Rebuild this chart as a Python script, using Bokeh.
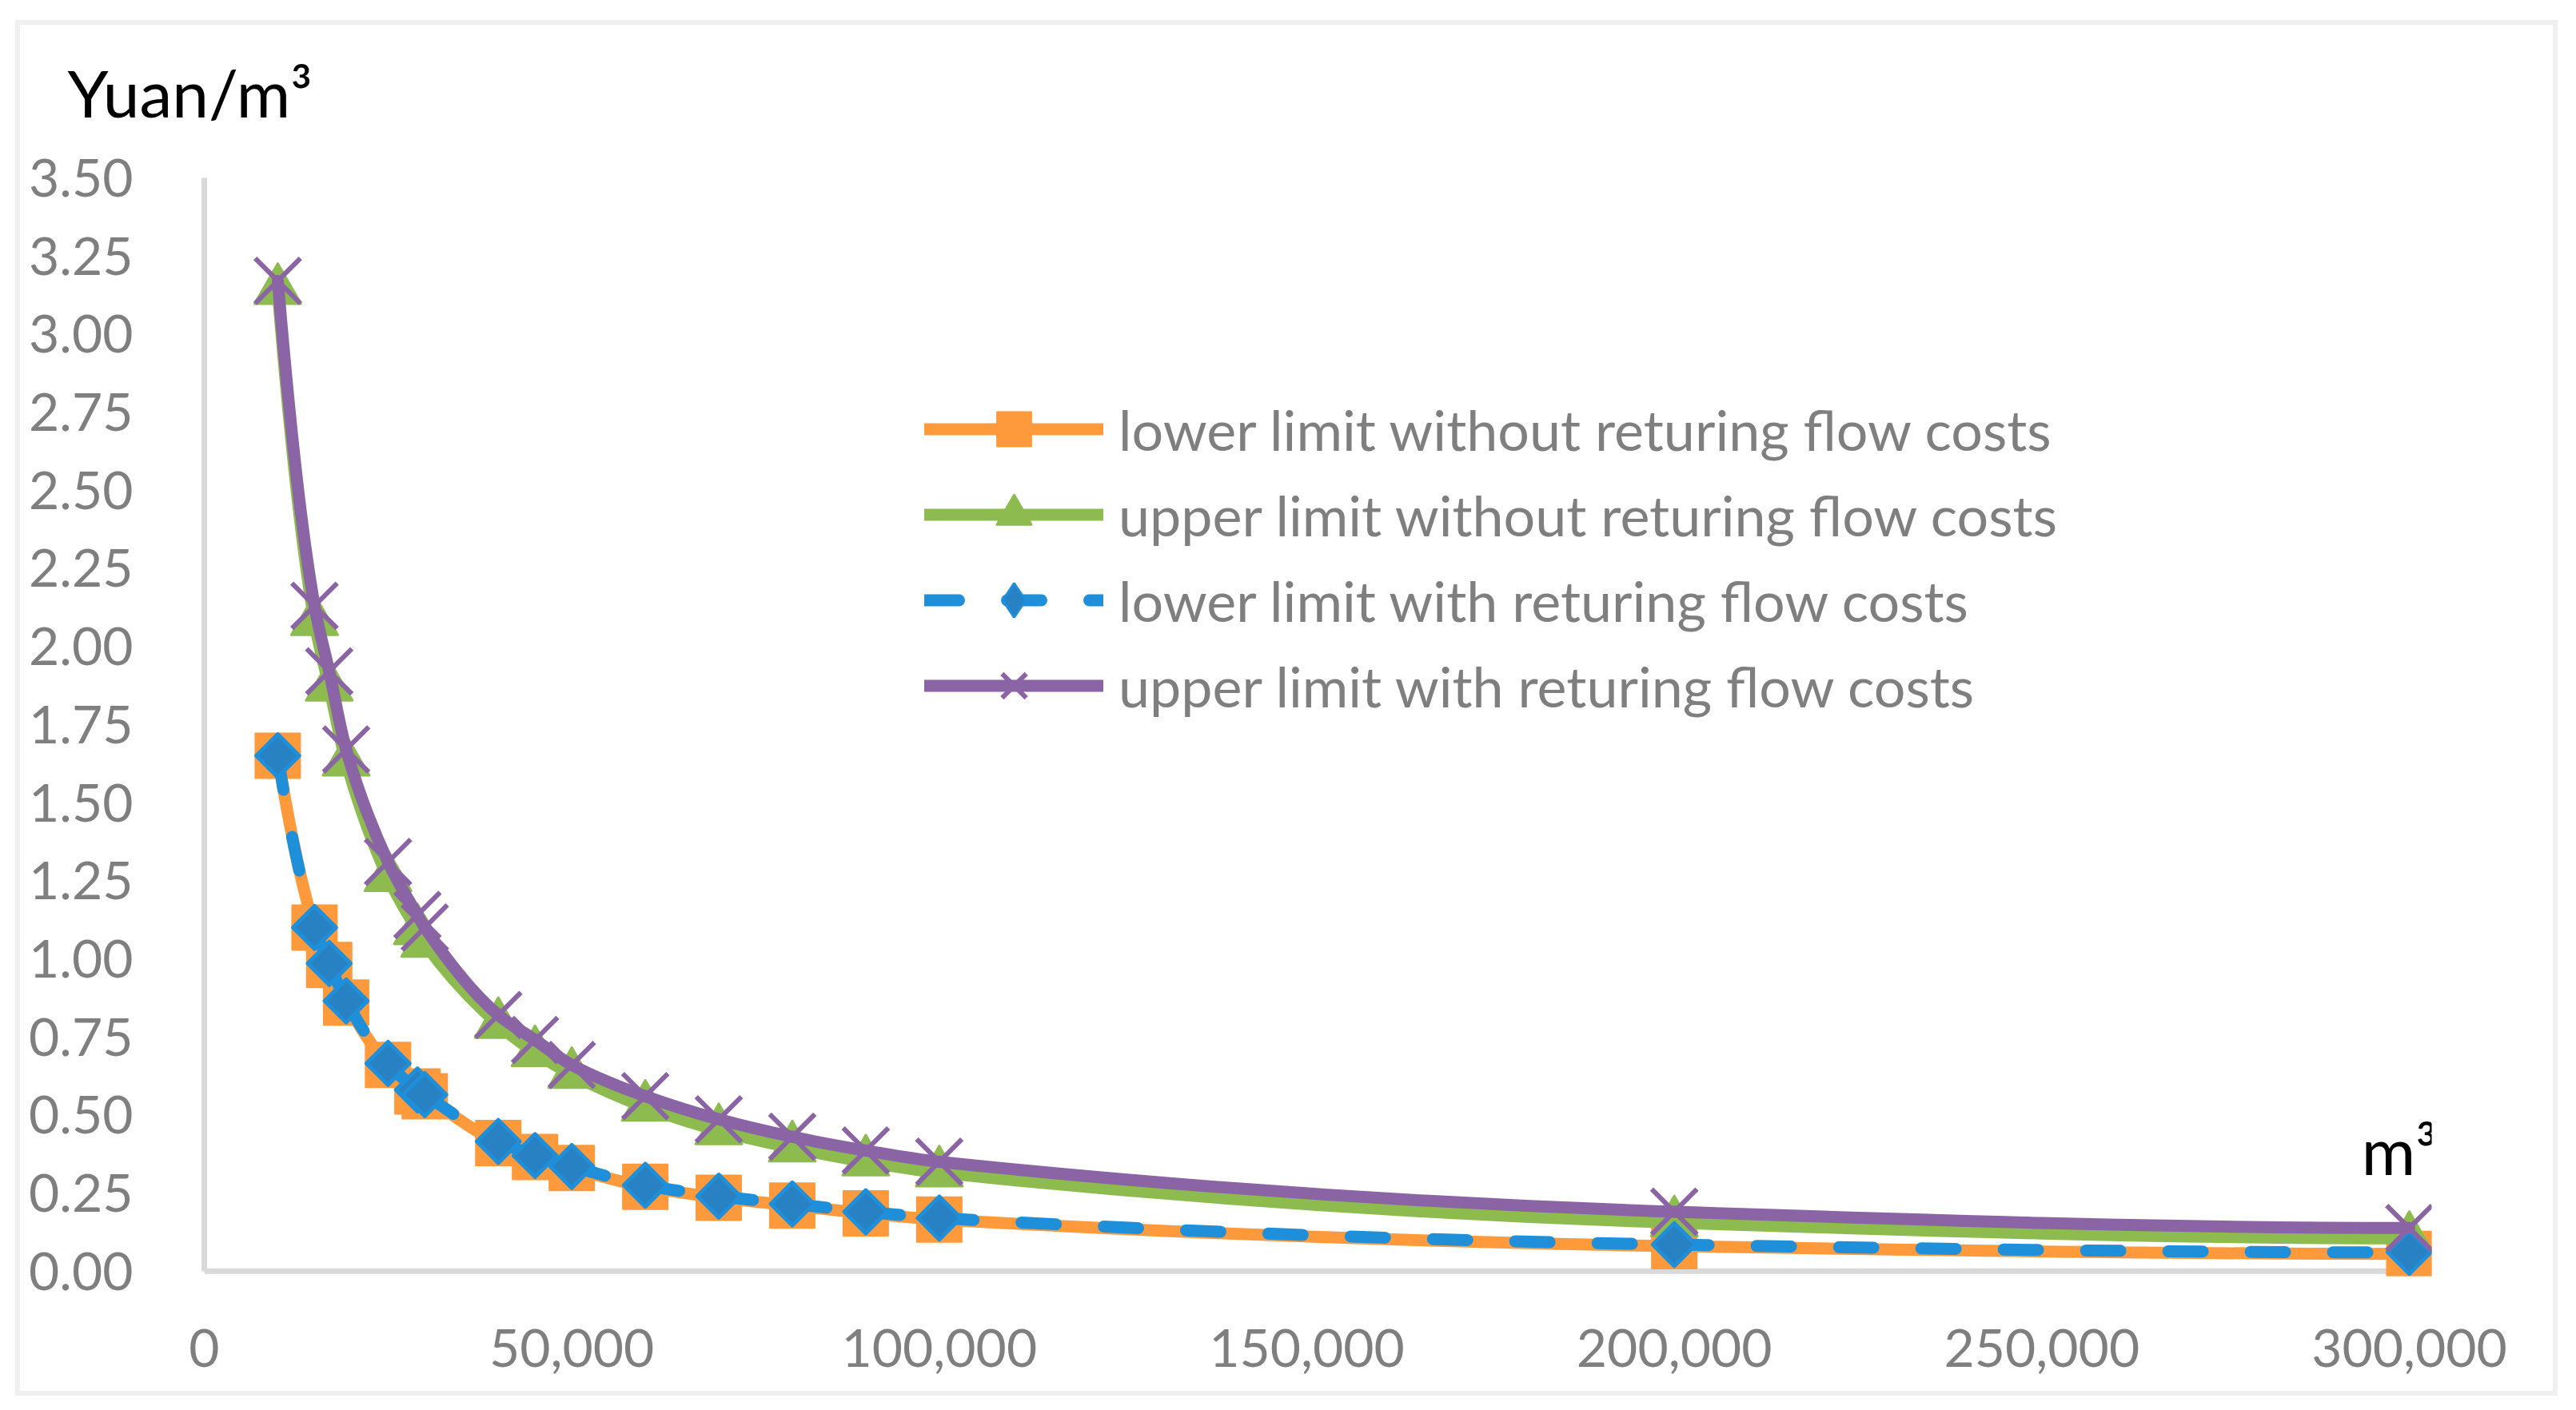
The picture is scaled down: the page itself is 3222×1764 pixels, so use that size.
import numpy as np
from bokeh.plotting import figure
from bokeh.models import (ColumnDataSource, Legend, LegendItem, FixedTicker,
                          NumeralTickFormatter, Range1d, Label, Span)
from bokeh.embed import file_html
from bokeh.resources import INLINE

# ---------------- data ----------------
volume = [10000, 15000, 17000, 19300, 25000, 29000, 30000, 40000, 45000, 50000,
          60000, 70000, 80000, 90000, 100000, 200000, 300000]
lower_without = [1.65, 1.10, 0.98, 0.86, 0.66, 0.575, 0.56, 0.41, 0.365, 0.33,
                 0.27, 0.235, 0.21, 0.185, 0.165, 0.08, 0.055]
upper_without = [3.14, 2.08, 1.87, 1.63, 1.26, 1.09, 1.05, 0.79, 0.70, 0.63,
                 0.525, 0.45, 0.395, 0.35, 0.315, 0.155, 0.105]
lower_with = [1.65, 1.10, 0.985, 0.865, 0.665, 0.58, 0.565, 0.415, 0.37, 0.335,
              0.275, 0.24, 0.215, 0.19, 0.17, 0.085, 0.06]
upper_with = [3.17, 2.13, 1.92, 1.67, 1.31, 1.14, 1.10, 0.82, 0.74, 0.66,
              0.56, 0.486, 0.43, 0.386, 0.35, 0.19, 0.138]
series_names = ["lower limit without returing flow costs",
                "upper limit without returing flow costs",
                "lower limit with returing flow costs",
                "upper limit with returing flow costs"]
x_ticks = [0, 50000, 100000, 150000, 200000, 250000, 300000]
y_ticks = [0.0, 0.25, 0.5, 0.75, 1.0, 1.25, 1.5, 1.75, 2.0, 2.25, 2.5, 2.75, 3.0, 3.25, 3.5]

FONT = "Lato"
GRAY = "#7f7f7f"
AXIS = "#d9d9d9"
FRAME_GRAY = "#f0f0f0"


def smooth_segments(xs, ys):
    """Monotone cubic (Fritsch-Carlson) through the points, as Bezier control points."""
    x = np.asarray(xs, float)
    y = np.asarray(ys, float)
    h = np.diff(x)
    d = np.diff(y) / h
    n = len(x)
    m = np.zeros(n)
    for i in range(1, n - 1):
        if d[i - 1] * d[i] <= 0:
            m[i] = 0.0
        else:
            w1 = 2 * h[i] + h[i - 1]
            w2 = h[i] + 2 * h[i - 1]
            m[i] = (w1 + w2) / (w1 / d[i - 1] + w2 / d[i])

    def end(h0, h1, d0, d1):
        mm = ((2 * h0 + h1) * d0 - h0 * d1) / (h0 + h1)
        if np.sign(mm) != np.sign(d0):
            mm = 0.0
        elif np.sign(d0) != np.sign(d1) and abs(mm) > abs(3 * d0):
            mm = 3 * d0
        return mm

    m[0] = end(h[0], h[1], d[0], d[1])
    m[-1] = end(h[-1], h[-2], d[-1], d[-2])
    return dict(x0=x[:-1], y0=y[:-1], x1=x[1:], y1=y[1:],
                cx0=x[:-1] + h / 3, cy0=y[:-1] + m[:-1] * h / 3,
                cx1=x[1:] - h / 3, cy1=y[1:] - m[1:] * h / 3)


p = figure(width=3218, height=1764,
           x_range=Range1d(0, 303046), y_range=Range1d(-0.016, 3.5),
           output_backend="svg", toolbar_location=None,
           min_border_left=255, min_border_right=177,
           min_border_top=222, min_border_bottom=168)
# transparent canvas; the light chart-area border is painted as the element's background
p.background_fill_alpha = 0
p.border_fill_alpha = 0
bar = f"linear-gradient({FRAME_GRAY},{FRAME_GRAY})"
p.styles = {"background": (
    f"{bar} 19px 25px / 3180px 6px no-repeat, "
    f"{bar} 19px 1740px / 3180px 6px no-repeat, "
    f"{bar} 19px 25px / 6px 1721px no-repeat, "
    f"{bar} 3193px 25px / 6px 1721px no-repeat, white")}
p.outline_line_color = None
p.xgrid.visible = False
p.ygrid.visible = False

# unit of the y axis, as the title
p.title.text = "Yuan/m³"
p.title.text_font = FONT
p.title.text_font_size = "82px"
p.title.text_font_style = "normal"
p.title.text_color = "black"
p.title.align = "left"
p.title.offset = -171
p.title.standoff = 118

# axes
p.xaxis.ticker = FixedTicker(ticks=x_ticks)
p.xaxis.formatter = NumeralTickFormatter(format="0,0")
p.xaxis.bounds = (0, 300000)
p.xaxis.axis_line_alpha = 0
p.xaxis.major_tick_line_color = None
p.xaxis.minor_tick_line_color = None
p.xaxis.major_label_standoff = 60
p.yaxis.ticker = FixedTicker(ticks=y_ticks)
p.yaxis.formatter = NumeralTickFormatter(format="0.00")
p.yaxis.bounds = (0, 3.5)
p.yaxis.axis_line_color = AXIS
p.yaxis.axis_line_width = 7
p.yaxis.major_tick_line_color = None
p.yaxis.minor_tick_line_color = None
p.yaxis.major_label_standoff = 83
for ax in (p.xaxis, p.yaxis):
    ax.major_label_text_font = FONT
    ax.major_label_text_font_size = "66px"
    ax.major_label_text_color = GRAY

p.add_layout(Span(location=0, dimension="width", line_color=AXIS,
                  line_width=7, level="underlay"))

# series
orange, green, blue, purple = "#ff9a3c", "#8dbb4f", "#1f8fda", "#8a64a5"
items = []
bez = dict(x0="x0", y0="y0", x1="x1", y1="y1", cx0="cx0", cy0="cy0", cx1="cx1", cy1="cy1")

src = ColumnDataSource(dict(x=volume, y=lower_without))
l1 = p.bezier(source=ColumnDataSource(smooth_segments(volume, lower_without)), **bez,
              line_color=orange, line_width=15, line_cap="round")
m1 = p.scatter("x", "y", source=src, marker="square", size=56, fill_color=orange,
               line_color=orange, line_width=2, line_join="round")
items.append(LegendItem(label=series_names[0], renderers=[l1, m1]))

src = ColumnDataSource(dict(x=volume, y=upper_without))
l2 = p.bezier(source=ColumnDataSource(smooth_segments(volume, upper_without)), **bez,
              line_color=green, line_width=15, line_cap="round")
m2 = p.scatter("x", "y", source=src, marker="triangle", size=58, fill_color=green,
               line_color=green, line_width=3, line_join="round")
items.append(LegendItem(label=series_names[1], renderers=[l2, m2]))

src = ColumnDataSource(dict(x=volume, y=lower_with))
l3 = p.bezier(source=ColumnDataSource(smooth_segments(volume, lower_with)), **bez,
              line_color=blue, line_width=15, line_cap="round", line_dash="43 60")
m3 = p.scatter("x", "y", source=src, marker="square", angle=np.pi / 4, size=38,
               fill_color="#2781c3", line_color=blue, line_width=5, line_join="round")
# legend-only swatch for the diamond marker (holds no point)
m3_leg = p.scatter("x", "y", source=ColumnDataSource(dict(x=[np.nan], y=[np.nan])),
                   marker="diamond", size=48, fill_color="#2781c3",
                   line_color=blue, line_width=3)
items.append(LegendItem(label=series_names[2], renderers=[l3, m3_leg]))

src = ColumnDataSource(dict(x=volume, y=upper_with))
l4 = p.bezier(source=ColumnDataSource(smooth_segments(volume, upper_with)), **bez,
              line_color=purple, line_width=15, line_cap="round")
m4 = p.scatter("x", "y", source=src, marker="x", size=80, line_color=purple, line_width=6)
items.append(LegendItem(label=series_names[3], renderers=[l4, m4]))

legend = Legend(items=items, location=(901, 685), orientation="vertical",
                glyph_width=224, glyph_height=107, label_standoff=19, spacing=0,
                padding=0, margin=0, border_line_alpha=0, background_fill_alpha=0,
                label_text_font=FONT, label_text_font_size="70px", label_text_color=GRAY,
                label_height=107)
p.add_layout(legend)

# unit of the x axis
p.add_layout(Label(x=293500, y=0.39, text="m³", text_font=FONT,
                   text_font_size="82px", text_color="black", text_align="left",
                   text_baseline="alphabetic"))

open("out.html", "w").write(file_html(p, INLINE))
